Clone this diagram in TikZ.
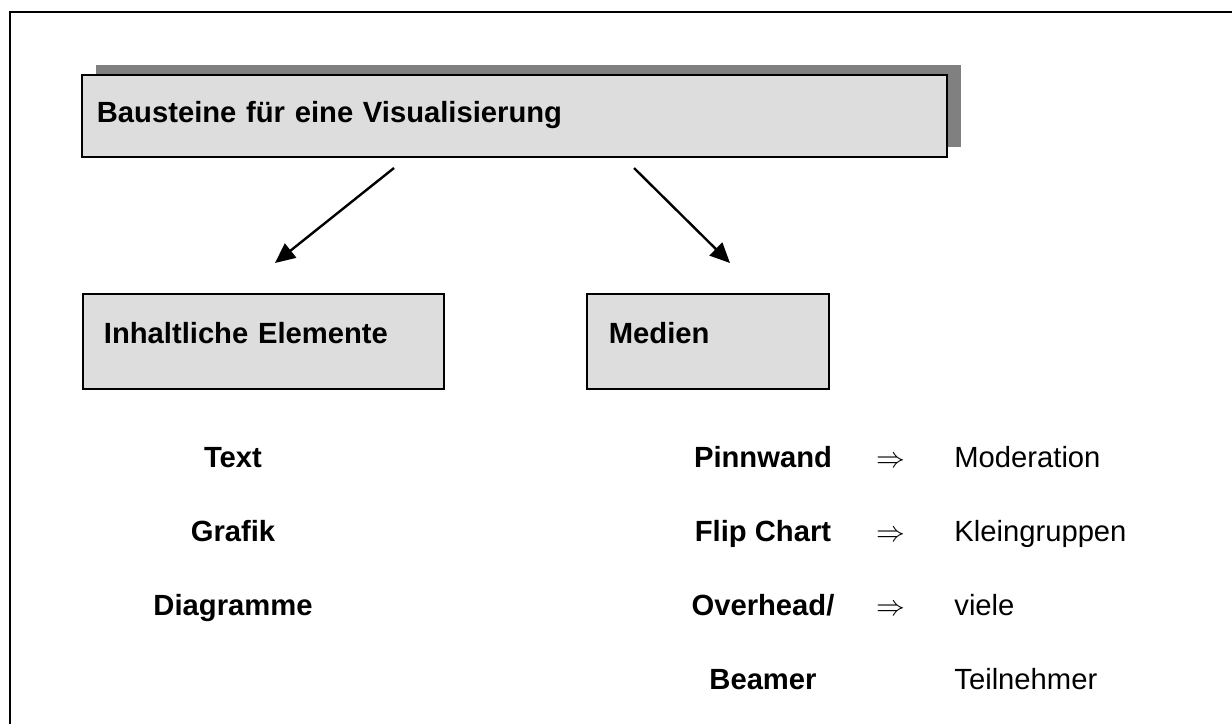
\documentclass[tikz,border=0pt]{standalone}
\usepackage{fontspec}
\setmainfont{Liberation Sans}
\usepackage{amsmath}
\usetikzlibrary{arrows.meta,shadows}
\definecolor{boxgray}{HTML}{DDDDDD}
\definecolor{shadowgray}{HTML}{808080}
\newcommand{\labelsize}{\fontsize{14.6}{17.5}\selectfont}
\tikzset{
    gray-box/.style = {draw=black, fill=boxgray, line width=0.9pt, rectangle, anchor=north west, inner ysep=0pt, align=left, font=\labelsize\bfseries},
    title-shadow/.style = {drop shadow={shadow xshift=7.2pt, shadow yshift=5pt, fill=shadowgray, opacity=1}},
    block-arrow/.style = {line width=1.2pt, -{Triangle[length=10pt,width=9pt]}},
    item-label/.style = {anchor=base, inner sep=0pt, font=\labelsize\bfseries},
    imply-sign/.style = {anchor=base, inner sep=0pt, font=\labelsize},
    target-label/.style = {anchor=base west, inner sep=0pt, font=\labelsize},
}

\begin{document}
\begin{tikzpicture}[x=0.5pt, y=-0.5pt]
\useasboundingbox (0,0) rectangle (1232,724);
\draw[line width=1.3pt] (10,724) -- (10,12) -- (1232,12);

\node [gray-box, title-shadow, inner xsep=7.5pt, text width=417.5pt, text height=24pt, text depth=17pt] (title) at (81,74) {Bausteine für eine Visualisierung};
\node [gray-box, inner xsep=10.5pt, text width=159.5pt, text height=25pt, text depth=22.5pt] (content) at (82,293) {Inhaltliche Elemente};
\node [gray-box, inner xsep=11pt, text width=99pt, text height=25pt, text depth=22.5pt] (media) at (586,293) {Medien};

\coordinate (content-from) at (394,168);
\coordinate (content-to) at (275,263);
\coordinate (media-from) at (634,168);
\coordinate (media-to) at (730,263);
\draw[block-arrow] (content-from) -- (content-to);
\draw[block-arrow] (media-from) -- (media-to);

\node [item-label] (text) at (233,467) {Text};
\node [item-label] (grafik) at (233,541) {Grafik};
\node [item-label] (diagramme) at (233,615) {Diagramme};

\node [item-label] (pinnwand) at (763,467) {Pinnwand};
\node [item-label] (flipchart) at (763,541) {Flip Chart};
\node [item-label] (overhead) at (763,615) {Overhead/};
\node [item-label] (beamer) at (763,689) {Beamer};

\node [imply-sign] (pinnwand-sign) at (891,467) {$\Rightarrow$};
\node [imply-sign] (flipchart-sign) at (891,541) {$\Rightarrow$};
\node [imply-sign] (overhead-sign) at (891,615) {$\Rightarrow$};

\node [target-label] (moderation) at (954,467) {Moderation};
\node [target-label] (kleingruppen) at (954,541) {Kleingruppen};
\node [target-label] (viele) at (954,615) {viele};
\node [target-label] (teilnehmer) at (954,689) {Teilnehmer};
\end{tikzpicture}
\end{document}
